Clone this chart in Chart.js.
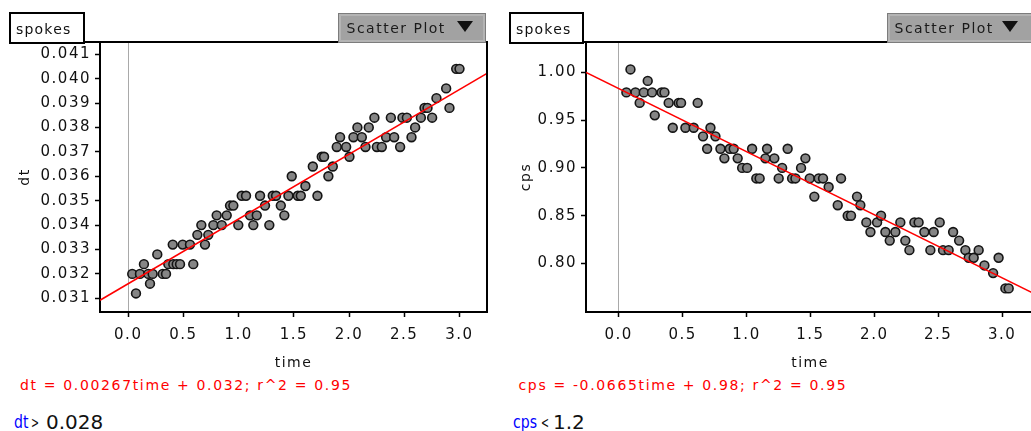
<!DOCTYPE html>
<html>
<head>
<meta charset="utf-8">
<script src="https://cdn.jsdelivr.net/npm/chart.js"></script>
<style>
html,body{margin:0;padding:0;background:#fff;overflow:hidden;width:1031px;height:431px;}
#wrap{position:relative;width:1031px;height:431px;overflow:hidden;font-family:"DejaVu Sans",sans-serif;color:#111;}
canvas{position:absolute;top:0;}
.t{position:absolute;white-space:nowrap;line-height:1;letter-spacing:1.5px;}
.box{position:absolute;border:2px solid #000;background:#fff;box-sizing:border-box;}
.btn{position:absolute;background:#a2a2a2;box-sizing:border-box;border:1px solid #7c7c7c;box-shadow:inset 0 0 0 2px #b4b4b4;}
.tri{position:absolute;width:0;height:0;border-left:8px solid transparent;border-right:8px solid transparent;border-top:11px solid #111;}
</style>
</head>
<body>
<div id="wrap">
  <canvas id="cDt" width="500" height="372" style="left:0;width:500px;height:372px"></canvas>
  <canvas id="cCps" width="540" height="372" style="left:500px;width:540px;height:372px"></canvas>

  <div class="box" style="left:9px;top:12px;width:76px;height:32px"></div>
  <div class="t" style="left:16px;top:21.5px;font-size:14px;letter-spacing:1.2px">spokes</div>
  <div class="btn" style="left:338px;top:13px;width:148px;height:30px"></div>
  <div class="t" style="left:346.5px;top:20.5px;font-size:14px;color:#1a1a1a">Scatter Plot</div>
  <div class="tri" style="left:457px;top:21px"></div>

  <div class="box" style="left:509px;top:12px;width:75px;height:32px"></div>
  <div class="t" style="left:516px;top:21.5px;font-size:14px;letter-spacing:1.2px">spokes</div>
  <div class="btn" style="left:887px;top:13px;width:148px;height:30px"></div>
  <div class="t" style="left:894.5px;top:20.5px;font-size:14px;color:#1a1a1a">Scatter Plot</div>
  <div class="tri" style="left:1002px;top:21px"></div>

  <div class="t" style="left:20px;top:377.5px;font-size:14px;color:#ff0000;letter-spacing:1.65px">dt = 0.00267time + 0.032; r^2 = 0.95</div>
  <div class="t" style="left:518.5px;top:378px;font-size:14px;color:#ff0000;letter-spacing:1.65px">cps = -0.0665time + 0.98; r^2 = 0.95</div>

  <div class="t" style="left:14px;top:413px;font-size:18px;color:#0000ff;letter-spacing:0;transform:scaleX(0.78);transform-origin:left top">dt</div>
  <div class="t" style="left:31px;top:415px;font-size:16px;letter-spacing:0;transform:scaleX(0.6);transform-origin:left top">&gt;</div>
  <div class="t" style="left:46px;top:411.5px;font-size:20px;letter-spacing:0">0.028</div>

  <div class="t" style="left:513px;top:413px;font-size:18px;color:#0000ff;letter-spacing:0;transform:scaleX(0.78);transform-origin:left top">cps</div>
  <div class="t" style="left:541px;top:415px;font-size:16px;letter-spacing:0;transform:scaleX(0.6);transform-origin:left top">&lt;</div>
  <div class="t" style="left:553px;top:411.5px;font-size:20px;letter-spacing:0">1.2</div>
</div>
<script>
// ---- data ----
const timeDt = [0.036,0.070,0.106,0.142,0.181,0.197,0.221,0.263,0.312,0.342,
  0.363,0.403,0.408,0.439,0.469,0.493,0.559,0.589,0.626,0.662,
  0.695,0.725,0.771,0.801,0.847,0.892,0.922,0.952,0.997,1.028,
  1.067,1.103,1.133,1.164,1.194,1.239,1.278,1.309,1.339,1.382,
  1.414,1.451,1.481,1.536,1.563,1.605,1.672,1.714,1.753,1.774,
  1.813,1.853,1.889,1.919,1.974,2.004,2.040,2.076,2.116,2.149,
  2.179,2.230,2.252,2.297,2.336,2.379,2.409,2.463,2.484,2.524,
  2.566,2.599,2.651,2.684,2.711,2.753,2.792,2.880,2.910,2.971,
  3.001];
const dtValues = [0.0320,0.0312,0.0320,0.0324,0.0320,0.0316,0.0320,0.0328,0.0320,0.0320,
  0.0324,0.0332,0.0324,0.0324,0.0324,0.0332,0.0332,0.0324,0.0336,0.0340,
  0.0332,0.0336,0.0340,0.0344,0.0340,0.0344,0.0348,0.0348,0.0340,0.0352,
  0.0352,0.0344,0.0340,0.0344,0.0352,0.0348,0.0340,0.0352,0.0352,0.0348,
  0.0344,0.0352,0.0360,0.0352,0.0352,0.0356,0.0364,0.0352,0.0368,0.0368,
  0.0360,0.0364,0.0372,0.0376,0.0372,0.0368,0.0376,0.0380,0.0376,0.0372,
  0.0380,0.0384,0.0372,0.0372,0.0376,0.0384,0.0376,0.0372,0.0384,0.0384,
  0.0376,0.0380,0.0384,0.0388,0.0388,0.0384,0.0392,0.0396,0.0388,0.0404,
  0.0404];
const timeCps = [0.060,0.092,0.131,0.164,0.196,0.227,0.261,0.282,0.336,0.358,
  0.391,0.423,0.469,0.488,0.522,0.587,0.618,0.660,0.692,0.718,
  0.757,0.796,0.827,0.869,0.900,0.931,0.966,1.005,1.044,1.077,
  1.103,1.148,1.161,1.218,1.252,1.279,1.322,1.357,1.383,1.427,
  1.461,1.495,1.531,1.565,1.599,1.643,1.714,1.740,1.792,1.818,
  1.865,1.891,1.938,1.970,2.022,2.053,2.087,2.121,2.165,2.204,
  2.243,2.275,2.314,2.347,2.392,2.439,2.465,2.512,2.538,2.582,
  2.617,2.664,2.713,2.739,2.778,2.817,2.862,2.930,2.973,3.026,
  3.052];
const cpsValues = [0.979,1.003,0.979,0.968,0.979,0.991,0.979,0.955,0.979,0.979,
  0.968,0.942,0.968,0.968,0.942,0.942,0.968,0.933,0.920,0.942,
  0.933,0.920,0.910,0.920,0.920,0.910,0.900,0.900,0.920,0.889,
  0.889,0.910,0.920,0.910,0.889,0.900,0.920,0.889,0.889,0.900,
  0.910,0.889,0.870,0.889,0.889,0.880,0.861,0.889,0.850,0.850,
  0.870,0.861,0.843,0.833,0.843,0.850,0.833,0.824,0.833,0.843,
  0.824,0.814,0.843,0.843,0.833,0.814,0.833,0.843,0.814,0.814,
  0.833,0.824,0.814,0.806,0.806,0.814,0.798,0.790,0.806,0.774,
  0.774];
const timeTicks = [0, 0.5, 1, 1.5, 2, 2.5, 3];
const dtTicks = [0.031,0.032,0.033,0.034,0.035,0.036,0.037,0.038,0.039,0.040,0.041];
const cpsTicks = [0.80, 0.85, 0.90, 0.95, 1.00];
const timeRange = [-0.256, 3.25];
const dtRange = [0.03044, 0.0415];
const cpsRange = [0.7493, 1.0317];
// least-squares lines as displayed: [slope, intercept]
const dtFit = [0.00265, 0.0316];
const cpsFit = [-0.0660, 0.983];

Chart.defaults.font.family = '"DejaVu Sans", sans-serif';
Chart.defaults.color = '#111';

const framePlugin = {
  id: 'frame',
  beforeDraw(chart) { chart.ctx.letterSpacing = '1.5px'; },
  afterDraw(chart, args, opts) {
    const {ctx, chartArea: a} = chart;
    ctx.save();
    ctx.strokeStyle = '#000';
    ctx.lineWidth = 2;
    ctx.beginPath();
    ctx.moveTo(opts.fromX, a.top);
    ctx.lineTo(a.right, a.top);
    ctx.lineTo(a.right, a.bottom);
    ctx.stroke();
    ctx.restore();
  }
};

function makeChart(id, xs, ys, yRange, yTicks, decimals, fit, yTitle, yAxisWidth, padRight, titlePad, frameFrom) {
  const pts = xs.map((x, i) => ({x: x, y: ys[i]}));
  const line = timeRange.map(x => ({x: x, y: fit[1] + fit[0] * x}));
  return new Chart(document.getElementById(id), {
    type: 'scatter',
    data: {
      datasets: [
        {type: 'line', data: line, borderColor: 'rgb(255,0,0)', borderWidth: 1.5,
         pointRadius: 0, fill: false, order: 0},
        {data: pts, pointRadius: 4.4, pointBorderWidth: 1.6,
         backgroundColor: '#858585', borderColor: '#141414', order: 1}
      ]
    },
    options: {
      responsive: false, animation: false, events: [],
      layout: {padding: {top: 42, right: padRight, left: 0, bottom: 0}},
      plugins: {legend: {display: false}, tooltip: {enabled: false}, frame: {fromX: frameFrom}},
      scales: {
        x: {
          type: 'linear', min: timeRange[0], max: timeRange[1],
          afterBuildTicks: s => { s.ticks = timeTicks.map(v => ({value: v})); },
          afterFit: s => { s.height = 60; },
          border: {color: '#000', width: 2},
          grid: {drawOnChartArea: true, lineWidth: 1, tickLength: 5, tickColor: '#000', tickWidth: 1.5,
                 color: c => (c.tick && c.tick.value === 0) ? '#a9a9a9' : 'rgba(0,0,0,0)'},
          ticks: {font: {size: 15}, padding: 9, color: '#111', maxRotation: 0,
                  callback: v => Number(v).toFixed(1)},
          title: {display: true, text: 'time', color: '#111', font: {size: 14}, padding: {top: 0, bottom: 0}}
        },
        y: {
          type: 'linear', min: yRange[0], max: yRange[1],
          afterBuildTicks: s => { s.ticks = yTicks.map(v => ({value: v})); },
          afterFit: s => { s.width = yAxisWidth; },
          border: {color: '#000', width: 2},
          grid: {drawOnChartArea: false, tickLength: 5, tickColor: '#000', tickWidth: 1.5},
          ticks: {font: {size: 15}, padding: 4, color: '#111',
                  callback: v => Number(v).toFixed(decimals)},
          title: {display: true, text: yTitle, color: '#111', font: {size: 14}, padding: {top: titlePad, bottom: 0}}
        }
      }
    },
    plugins: [framePlugin]
  });
}

makeChart('cDt', timeDt, dtValues, dtRange, dtTicks, 3, dtFit, 'dt', 100, 13, 17, 9);
makeChart('cCps', timeCps, cpsValues, cpsRange, cpsTicks, 2, cpsFit, 'cps', 86, 6, 18, 9);
</script>
</body>
</html>
